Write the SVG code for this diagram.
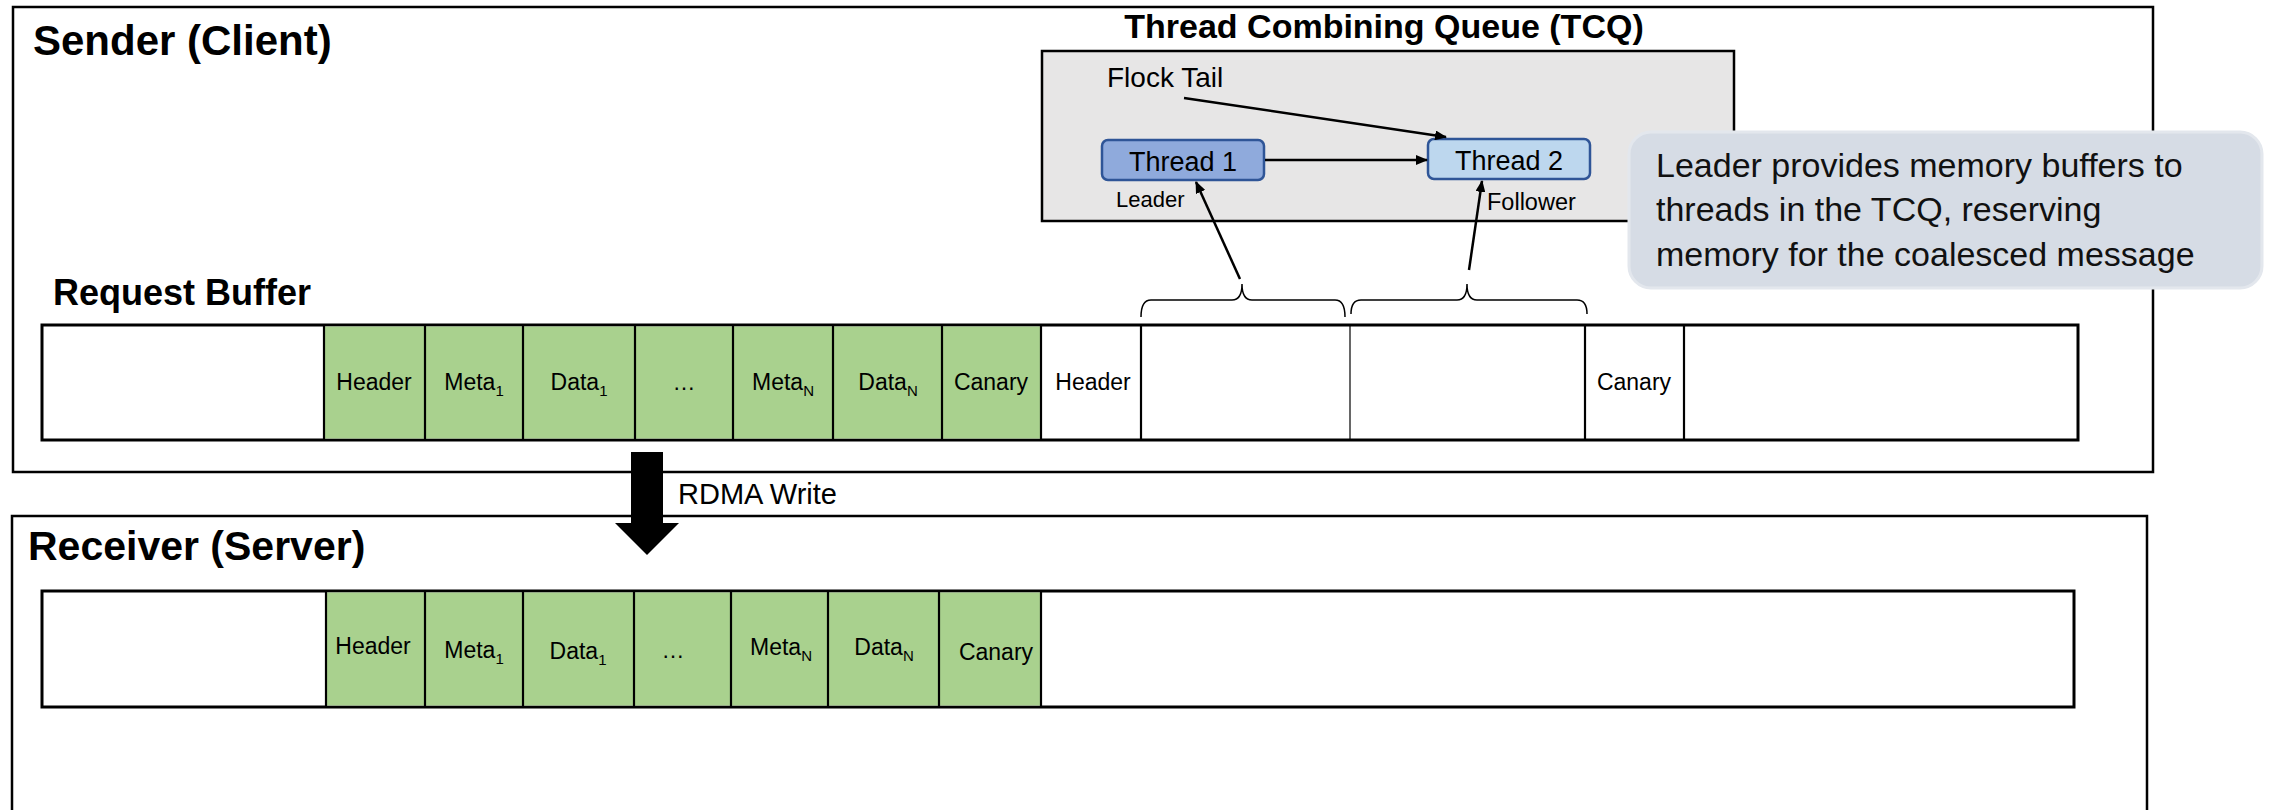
<svg xmlns="http://www.w3.org/2000/svg" width="2277" height="810" viewBox="0 0 2277 810">
  <defs>
    <marker id="head" viewBox="0 0 12 10" refX="11" refY="5" markerWidth="12" markerHeight="10" markerUnits="userSpaceOnUse" orient="auto">
      <path d="M0,0 L12,5 L0,10 Z" fill="#000"/>
    </marker>
    <style>
      text { font-family: "Liberation Sans", Arial, sans-serif; fill: #000; }
      .title { font-weight: bold; }
      .frame { fill: #fff; stroke: #000; stroke-width: 2.5; }
      .buf { fill: #fff; stroke: #000; stroke-width: 3; }
      .green { fill: #a9d18e; stroke: none; }
      .div { stroke: #000; stroke-width: 2.2; }
      .thin { stroke: #000; stroke-width: 1.2; }
      .cell { font-size: 23px; text-anchor: middle; }
      .sub { font-size: 15px; }
      .thread { stroke: #2f5597; stroke-width: 2.5; }
      .tlabel { font-size: 27px; text-anchor: middle; }
      .conn { stroke: #000; stroke-width: 2.5; fill: none; marker-end: url(#head); }
      .brace { stroke: #000; stroke-width: 1.5; fill: none; }
      .note { font-size: 34px; fill: #111; }
    </style>
  </defs>

  <!-- Sender side -->
  <g id="sender">
    <rect class="frame" x="13" y="7" width="2140" height="465"/>
    <text class="title" x="33" y="55" font-size="42">Sender (Client)</text>
  </g>

  <!-- Thread combining queue -->
  <g id="tcq">
    <text class="title" x="1384" y="38" font-size="34" text-anchor="middle">Thread Combining Queue (TCQ)</text>
    <rect x="1042" y="51" width="692" height="170" fill="#e7e6e6" stroke="#000" stroke-width="2.5"/>
    <text x="1107" y="87" font-size="28">Flock Tail</text>
  </g>

  <g id="thread1">
    <rect class="thread" x="1102" y="140" width="162" height="40" rx="6" fill="#8faadc"/>
    <text class="tlabel" x="1183" y="171">Thread 1</text>
    <text x="1116" y="207" font-size="22">Leader</text>
  </g>

  <g id="thread2">
    <rect class="thread" x="1428" y="139" width="162" height="40" rx="6" fill="#bdd7ee"/>
    <text class="tlabel" x="1509" y="170">Thread 2</text>
    <text x="1487" y="210" font-size="23.5">Follower</text>
  </g>

  <!-- Request buffer on the sender -->
  <g id="request-buffer">
    <text class="title" x="53" y="305" font-size="36">Request Buffer</text>
    <rect class="buf" x="42" y="325" width="2036" height="115"/>
    <rect class="green" x="324" y="326.5" width="717" height="112"/>
    <line class="div" x1="324" y1="325" x2="324" y2="440"/>
    <line class="div" x1="425" y1="325" x2="425" y2="440"/>
    <line class="div" x1="523" y1="325" x2="523" y2="440"/>
    <line class="div" x1="635" y1="325" x2="635" y2="440"/>
    <line class="div" x1="733" y1="325" x2="733" y2="440"/>
    <line class="div" x1="833" y1="325" x2="833" y2="440"/>
    <line class="div" x1="942" y1="325" x2="942" y2="440"/>
    <line class="div" x1="1041" y1="325" x2="1041" y2="440"/>
    <line class="div" x1="1141" y1="325" x2="1141" y2="440"/>
    <line class="thin" x1="1350" y1="325" x2="1350" y2="440"/>
    <line class="div" x1="1585" y1="325" x2="1585" y2="440"/>
    <line class="div" x1="1684" y1="325" x2="1684" y2="440"/>
    <text class="cell" x="374" y="390">Header</text>
    <text class="cell" x="474" y="390">Meta<tspan class="sub" dy="6">1</tspan></text>
    <text class="cell" x="579" y="390">Data<tspan class="sub" dy="6">1</tspan></text>
    <text class="cell" x="684" y="390">…</text>
    <text class="cell" x="783" y="390">Meta<tspan class="sub" dy="6">N</tspan></text>
    <text class="cell" x="888" y="390">Data<tspan class="sub" dy="6">N</tspan></text>
    <text class="cell" x="991" y="390">Canary</text>
    <text class="cell" x="1093" y="390">Header</text>
    <text class="cell" x="1634" y="390">Canary</text>
  </g>

  <!-- Connectors -->
  <g id="connectors">
    <line class="conn" x1="1184" y1="98" x2="1446" y2="137"/>
    <line class="conn" x1="1265" y1="160" x2="1427" y2="160"/>
    <line class="conn" x1="1240" y1="279" x2="1196" y2="182"/>
    <line class="conn" x1="1469" y1="270" x2="1482" y2="181"/>
    <path class="brace" d="M1141,317 Q1141,300 1151,300 L1232,300 Q1242,300 1242,284 Q1242,300 1252,300 L1335,300 Q1345,300 1345,317"/>
    <path class="brace" d="M1351,314 Q1351,300 1361,300 L1457,300 Q1467,300 1467,284 Q1467,300 1477,300 L1577,300 Q1587,300 1587,314"/>
    <path id="rdma-arrow" d="M631,452 L663,452 L663,523 L679,523 L647,555 L615,523 L631,523 Z" fill="#000"/>
    <text x="678" y="504" font-size="29">RDMA Write</text>
  </g>

  <!-- Receiver side -->
  <g id="receiver">
    <path d="M12,830 L12,516 L2147,516 L2147,830" fill="none" stroke="#000" stroke-width="2.5"/>
    <text class="title" x="28" y="560" font-size="41">Receiver (Server)</text>
  </g>

  <g id="receive-buffer">
    <rect class="buf" x="42" y="591" width="2032" height="116"/>
    <rect class="green" x="326" y="592.5" width="715" height="113"/>
    <line class="div" x1="326" y1="591" x2="326" y2="707"/>
    <line class="div" x1="425" y1="591" x2="425" y2="707"/>
    <line class="div" x1="523" y1="591" x2="523" y2="707"/>
    <line class="div" x1="634" y1="591" x2="634" y2="707"/>
    <line class="div" x1="731" y1="591" x2="731" y2="707"/>
    <line class="div" x1="828" y1="591" x2="828" y2="707"/>
    <line class="div" x1="939" y1="591" x2="939" y2="707"/>
    <line class="div" x1="1041" y1="591" x2="1041" y2="707"/>
    <text class="cell" x="373" y="654">Header</text>
    <text class="cell" x="474" y="658">Meta<tspan class="sub" dy="6">1</tspan></text>
    <text class="cell" x="578" y="659">Data<tspan class="sub" dy="6">1</tspan></text>
    <text class="cell" x="673" y="658">…</text>
    <text class="cell" x="781" y="655">Meta<tspan class="sub" dy="6">N</tspan></text>
    <text class="cell" x="884" y="655">Data<tspan class="sub" dy="6">N</tspan></text>
    <text class="cell" x="996" y="660">Canary</text>
  </g>

  <!-- Explanatory callout -->
  <g id="callout">
    <rect x="1629" y="132" width="633" height="156" rx="22" fill="#d6dce5" stroke="#e3e7ed" stroke-width="3"/>
    <text class="note" x="1656" y="177">Leader provides memory buffers to</text>
    <text class="note" x="1656" y="221">threads in the TCQ, reserving</text>
    <text class="note" x="1656" y="266">memory for the coalesced message</text>
  </g>
</svg>
